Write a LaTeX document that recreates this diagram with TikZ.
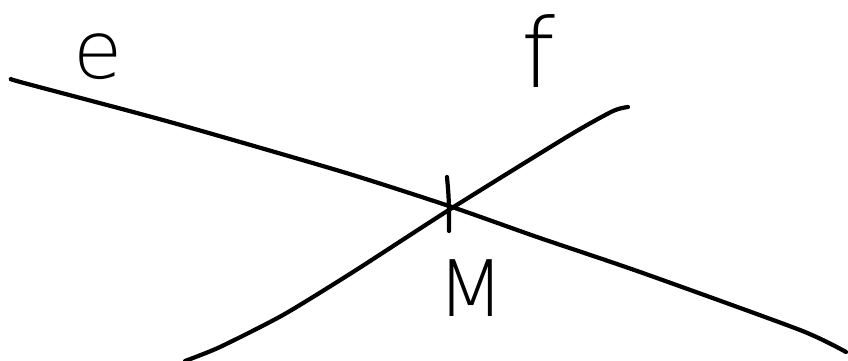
\documentclass[tikz,border=0pt]{standalone}
\usepackage{fontspec}
\newfontfamily\handfont{DejaVu Sans ExtraLight}
\begin{document}
\begin{tikzpicture}[x=1pt,y=-1pt,
  stroke/.style={line width=4.2pt,line cap=round,line join=round,black},
  lbl/.style={inner sep=0pt,font=\handfont}]
\useasboundingbox[fill=white] (0,0) rectangle (848,361);
% line e
\draw[stroke] plot[smooth,tension=0.4] coordinates {(11,79) (24,83) (170,122) (343,172) (452,207) (537,237) (640,272) (800,330) (846,352)};
% line f
\draw[stroke] plot[smooth,tension=0.4] coordinates {(628,107) (613,111) (570,135) (452,208) (353,272) (283,315) (220,347) (185,361)};
% tick at M
\draw[stroke] (447,177) .. controls (449,200) .. (449,231);
\coordinate (Mpt) at (450,207);
% labels
\node[lbl,font=\handfont\fontsize{80}{80}\selectfont] (e) at (98,57) {e};
\node[lbl,font=\handfont\fontsize{96}{96}\selectfont] (f) at (538,51) {f};
\node[lbl,font=\handfont\fontsize{78}{78}\selectfont] (M) at (471,288) {M};
\end{tikzpicture}
\end{document}
